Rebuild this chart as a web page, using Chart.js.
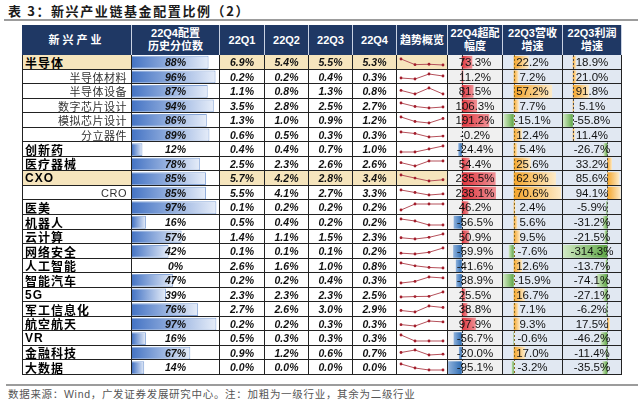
<!DOCTYPE html>
<html lang="zh-CN">
<head>
<meta charset="utf-8">
<title>新兴产业链基金配置比例（2）</title>
<script src="https://cdn.jsdelivr.net/npm/chart.js@4.4.1/dist/chart.umd.min.js"></script>
<style>
  html, body { margin: 0; padding: 0; background: #fff; }
  body { width: 640px; height: 402px; position: relative; overflow: hidden;
         font-family: "Liberation Sans", Arial, "Noto Sans CJK SC", sans-serif; }
  .abs { position: absolute; box-sizing: border-box; }
  #title { position: absolute; left: 8px; top: 1px; font: bold 13px "Noto Sans CJK SC", sans-serif;
           color: #1a1a1a; letter-spacing: 1.6px; white-space: nowrap; }
  .rule { position: absolute; background: #9c9c9c; height: 2px; }
  #note { position: absolute; left: 8px; top: 386px; font-size: 10.5px; color: #555; white-space: nowrap;
          font-family: "Liberation Sans", "Noto Sans CJK SC", sans-serif; letter-spacing: 0.7px; }
  .cell { z-index: 2; border-right: 1px solid #222; border-bottom: 1px solid #222; display: flex;
          align-items: center; justify-content: center; white-space: nowrap; color: #111; }
  .head { z-index: 2; background: #1f3864; color: #fff; font-weight: bold; font-size: 11px; line-height: 13px;
          text-align: center; display: flex; align-items: center; justify-content: center;
          border-right: 1px solid #c9d2e3; white-space: nowrap; }
  .first { border-left: 1px solid #222; }
  .lvl1 { justify-content: flex-start; padding-left: 2px; font-weight: bold; font-size: 12px; letter-spacing: 1px; color: #000; }
  .lvl2 { justify-content: flex-end; padding-right: 4px; font-size: 11px; letter-spacing: 0.5px; color: #333; }
  .pct, .qv { font-style: italic; font-weight: bold; font-size: 10.5px; }
  .gv { font-size: 11.5px; }
  canvas.bar { position: absolute; z-index: 1; }
  canvas.spark { position: absolute; z-index: 3; }
</style>
</head>
<body>
<div id="title">表 3：新兴产业链基金配置比例（2）</div>
<div class="rule" style="left:4px; top:19px; width:634px;"></div>
<div class="rule" style="left:6px; top:384px; width:632px;"></div>
<div id="note">数据来源：Wind，广发证券发展研究中心。注：加粗为一级行业，其余为二级行业</div>
<script>
// ---- data ----
const industries = ['半导体', '半导体材料', '半导体设备', '数字芯片设计', '模拟芯片设计', '分立器件',
    '创新药', '医疗器械', 'CXO', 'CRO', '医美', '机器人', '云计算', '网络安全', '人工智能',
    '智能汽车', '5G', '军工信息化', '航空航天', 'VR', '金融科技', '大数据'];
const firstLevel = [1, 0, 0, 0, 0, 0, 1, 1, 1, 0, 1, 1, 1, 1, 1, 1, 1, 1, 1, 1, 1, 1];
const quarters = ['22Q1', '22Q2', '22Q3', '22Q4'];
const percentile = [88, 96, 87, 94, 86, 89, 12, 78, 85, 85, 97, 16, 57, 42, 0, 47, 39, 76, 97, 16, 67, 14];
const q1 = [6.9, 0.22, 1.1, 3.5, 1.3, 0.6, 0.4, 2.5, 5.7, 5.5, 0.1, 0.5, 1.4, 0.12, 2.6, 0.17, 2.28, 2.7, 0.2, 0.5, 0.9, 0.04];
const q2 = [5.4, 0.18, 0.8, 2.8, 1.0, 0.5, 0.4, 2.3, 4.2, 4.1, 0.2, 0.4, 1.1, 0.11, 1.6, 0.22, 2.3, 2.6, 0.17, 0.3, 1.2, 0.02];
const q3 = [5.5, 0.38, 1.3, 2.5, 0.9, 0.27, 0.7, 2.6, 2.8, 2.7, 0.2, 0.2, 1.5, 0.13, 1.0, 0.36, 2.31, 3.0, 0.28, 0.3, 0.6, 0.01];
const q4 = [5.3, 0.3, 0.8, 2.7, 1.2, 0.33, 1.0, 2.6, 3.4, 3.3, 0.2, 0.2, 2.3, 0.18, 0.8, 0.33, 2.5, 2.9, 0.26, 0.3, 0.7, 0.01];
const overweight = [73.3, 11.2, 81.5, 106.3, 191.2, -0.2, -24.4, 54.4, 235.5, 238.1, 46.2, -56.5, 50.9, -59.9,
    -41.6, -38.9, 25.5, 38.8, 97.9, -56.7, -20.0, -95.1];
const revenueGrowth = [22.2, 7.2, 57.2, 7.7, -15.1, 12.4, 5.4, 25.6, 62.9, 70.6, 2.4, 5.6, 9.5, -7.6, 12.6,
    -15.9, 16.7, 7.1, 9.3, -0.6, 17.0, -3.2];
const profitGrowth = [18.9, 21.0, 91.8, 5.1, -55.8, 11.4, -26.7, 33.2, 85.6, 94.1, -5.9, -31.2, -21.5, -314.3,
    -13.7, -74.1, -27.1, -6.2, 17.5, -46.2, -11.4, -35.5];

const columnTitles = ['新兴产业', '22Q4配置<br>历史分位数', ...quarters, '趋势概览',
    '22Q4超配<br>幅度', '22Q3营收<br>增速', '22Q3利润<br>增速'];
const tanRows = ['半导体', 'CXO'];
const SEMI_ROWS = 6; // 半导体及子行业的数据条单独成组

// ---- layout ----
const COL_X = [22, 132, 220, 265, 309, 353, 397, 448, 503, 563, 622];
const HEAD_Y = 25, BODY_Y = 55, BODY_END = 375;
const TAN = '#f6e5bd';
const colBg = { 1: '#ffffff', 7: '#f0f0f0', 8: '#e1e8f2', 9: '#e1e8f2' };

const rowTop = i => Math.round(BODY_Y + i * (BODY_END - BODY_Y) / industries.length);
const fmt = v => v.toFixed(1) + '%';

function addBox(cls, x0, x1, y0, y1, html, bg) {
    const d = document.createElement('div');
    d.className = 'abs ' + cls;
    d.style.left = x0 + 'px';
    d.style.top = y0 + 'px';
    d.style.width = (x1 - x0) + 'px';
    d.style.height = (y1 - y0) + 'px';
    if (bg) d.style.background = bg;
    if (html != null) d.innerHTML = html;
    document.body.appendChild(d);
    return d;
}

// header
columnTitles.forEach((t, c) => {
    const d = addBox('head', COL_X[c], COL_X[c + 1], HEAD_Y, BODY_Y, t);
    if (c === 0) d.style.letterSpacing = '3px';
});

// body cells (text + grid); bar columns stay transparent so the charts show through
industries.forEach((name, i) => {
    const y0 = rowTop(i), y1 = rowTop(i + 1);
    const bg = tanRows.includes(name) ? TAN : '#fff';
    const qs = [q1[i], q2[i], q3[i], q4[i]].map(fmt);
    const texts = [name, percentile[i] + '%', ...qs, '', fmt(overweight[i]), fmt(revenueGrowth[i]), fmt(profitGrowth[i])];
    texts.forEach((t, c) => {
        let cls = 'cell', fill = null;
        if (c === 0) { cls += ' first ' + (firstLevel[i] ? 'lvl1' : 'lvl2'); fill = bg; }
        else if (c === 1) cls += ' pct';
        else if (c <= 5) { cls += ' qv'; fill = bg; }
        else if (c === 6) fill = bg;
        else cls += ' gv';
        addBox(cls, COL_X[c], COL_X[c + 1], y0, y1, t, fill);
    });
});

// ---- charts ----
function fade(strong, light, scaleId) {
    return ctx => {
        const chart = ctx.chart, v = ctx.raw;
        if (v == null || !chart.chartArea) return strong;
        const sc = chart.scales[scaleId];
        const a = sc.getPixelForValue(0), b = sc.getPixelForValue(v);
        if (Math.abs(b - a) < 1) return strong;
        const g = chart.ctx.createLinearGradient(a, 0, b, 0);
        g.addColorStop(0, strong);
        g.addColorStop(1, light);
        return g;
    };
}
const signed = (pos, neg) => ctx => (ctx.raw >= 0 ? pos : neg)(ctx);

const zeroLine = (groups, color) => ({
    id: 'zeroLine',
    afterDatasetsDraw(chart) {
        const { ctx } = chart, y = chart.scales.y;
        const half = (y.getPixelForValue(1) - y.getPixelForValue(0)) / 2;
        ctx.save();
        ctx.strokeStyle = color;
        ctx.lineWidth = 1;
        ctx.setLineDash([2, 2]);
        groups.forEach(g => {
            const x = Math.round(chart.scales[g.scale].getPixelForValue(0)) + 0.5;
            ctx.beginPath();
            ctx.moveTo(x, y.getPixelForValue(g.from) - half);
            ctx.lineTo(x, y.getPixelForValue(g.to) + half);
            ctx.stroke();
        });
        ctx.restore();
    }
});

function barColumn(c, datasets, scales, plugins) {
    const cv = document.createElement('canvas');
    cv.className = 'bar';
    cv.width = COL_X[c + 1] - COL_X[c] - 1;
    cv.height = BODY_END - BODY_Y;
    cv.style.left = COL_X[c] + 'px';
    cv.style.top = BODY_Y + 'px';
    cv.style.background = colBg[c];
    document.body.appendChild(cv);
    return new Chart(cv, {
        type: 'bar',
        data: { labels: industries, datasets },
        options: {
            indexAxis: 'y',
            responsive: false,
            animation: false,
            events: [],
            layout: { padding: 0 },
            plugins: { legend: { display: false }, tooltip: { enabled: false } },
            scales: Object.assign({ y: { display: false } }, scales)
        },
        plugins: plugins || []
    });
}

const barBase = { categoryPercentage: 1, barPercentage: 0.88, grouped: false, borderWidth: 0 };

// 22Q4配置历史分位数
barColumn(1, [Object.assign({}, barBase, {
    data: percentile,
    backgroundColor: fade('#4574c4', '#e6edf9', 'x'),
    borderColor: '#87a6d8',
    borderWidth: ctx => (ctx.raw ? 1 : 0)
})], { x: { display: false, min: 0, max: 100 } });

// 22Q4超配幅度
barColumn(7, [Object.assign({}, barBase, {
    data: overweight,
    backgroundColor: signed(fade('#e0353d', '#ef9196', 'x'), fade('#2f6db3', '#8fb2dc', 'x'))
})], { x: { display: false, min: -96, max: 280 } },
    [zeroLine([{ scale: 'x', from: 0, to: industries.length - 1 }], '#333')]);

// 22Q3营收增速
barColumn(8, [Object.assign({}, barBase, {
    data: revenueGrowth,
    backgroundColor: signed(fade('#f4a52a', '#fdebc9', 'x'), fade('#5ea645', '#d2e9c4', 'x'))
})], { x: { display: false, min: -16, max: 72 } },
    [zeroLine([{ scale: 'x', from: 0, to: industries.length - 1 }], '#8a6a1c')]);

// 22Q3利润增速 (two groups with their own scales)
barColumn(9, [
    Object.assign({}, barBase, {
        xAxisID: 'x1',
        data: profitGrowth.map((v, i) => (i < SEMI_ROWS ? v : null)),
        backgroundColor: signed(fade('#f4a52a', '#fdebc9', 'x1'), fade('#5ea645', '#d2e9c4', 'x1'))
    }),
    Object.assign({}, barBase, {
        xAxisID: 'x2',
        data: profitGrowth.map((v, i) => (i >= SEMI_ROWS ? v : null)),
        backgroundColor: signed(fade('#f4a52a', '#fdebc9', 'x2'), fade('#5ea645', '#d2e9c4', 'x2'))
    })
], {
    x1: { axis: 'x', display: false, min: -56, max: 275 },
    x2: { axis: 'x', display: false, min: -315, max: 97 }
}, [zeroLine([
    { scale: 'x1', from: 0, to: SEMI_ROWS - 1 },
    { scale: 'x2', from: SEMI_ROWS, to: industries.length - 1 }
], '#4a4a4a')]);

// 趋势概览 sparklines
industries.forEach((name, i) => {
    const y0 = rowTop(i), y1 = rowTop(i + 1);
    const cv = document.createElement('canvas');
    cv.className = 'spark';
    cv.width = COL_X[7] - COL_X[6] - 1;
    cv.height = y1 - y0 - 1;
    cv.style.left = COL_X[6] + 'px';
    cv.style.top = y0 + 'px';
    document.body.appendChild(cv);
    new Chart(cv, {
        type: 'line',
        data: {
            labels: quarters,
            datasets: [{
                data: [q1[i], q2[i], q3[i], q4[i]],
                borderColor: '#b5505a',
                borderWidth: 1,
                pointRadius: 1.4,
                pointBackgroundColor: '#a31d2b',
                pointBorderWidth: 0,
                tension: 0,
                clip: 4
            }]
        },
        options: {
            responsive: false,
            animation: false,
            events: [],
            layout: { padding: { left: 4, right: 4, top: 2, bottom: 2 } },
            plugins: { legend: { display: false }, tooltip: { enabled: false } },
            scales: { x: { display: false }, y: { display: false, bounds: 'data' } }
        }
    });
});
</script>
</body>
</html>
